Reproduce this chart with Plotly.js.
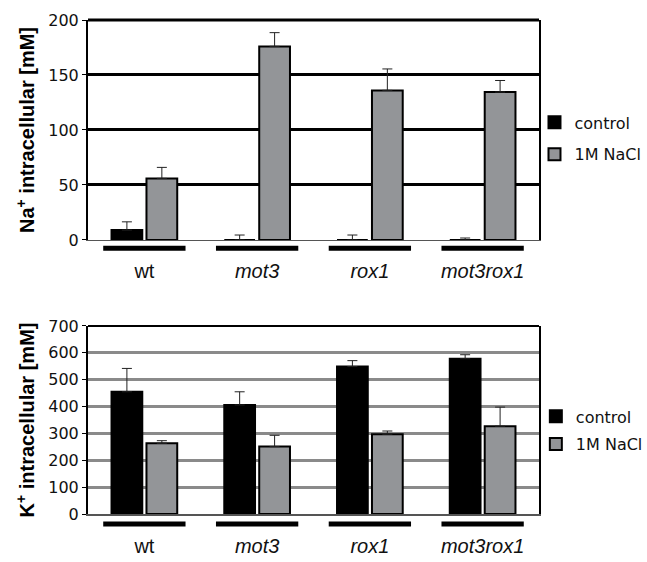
<!DOCTYPE html>
<html>
<head>
<meta charset="utf-8">
<script src="https://cdn.plot.ly/plotly-3.0.1.min.js"></script>
<style>html,body{margin:0;padding:0;background:#fff;}#chart{width:647px;height:562px;}</style>
</head>
<body>
<div id="chart"></div>
<script>
// ---- data ----
const categories = ['wt', 'mot3', 'rox1', 'mot3rox1'];
const tickLabels = ['wt', '<i>mot3</i>', '<i>rox1</i>', '<i>mot3rox1</i>'];
const seriesNames = ['control', '1M NaCl'];

const naControl = [9, 0, 0, 0];
const naControlErr = [7.5, 4.5, 4.5, 1.8];
const naSalt = [56, 176, 136, 134.5];
const naSaltErr = [10, 12.5, 19.5, 10.5];

const kControl = [455, 406, 549, 578];
const kControlErr = [87, 49, 22, 15];
const kSalt = [263, 251, 297, 327];
const kSaltErr = [10, 42, 12, 71];

const naTicks = [0, 50, 100, 150, 200];
const kTicks = [0, 100, 200, 300, 400, 500, 600, 700];

// ---- styles ----
const BLACK = '#000000';
const GREY = '#939598';
const zeros = categories.map(() => 0);

function barTrace(y, err, name, color, xa, ya, legend, group) {
  return {
    type: 'bar', x: categories, y: y, name: name,
    xaxis: xa, yaxis: ya, legend: legend, legendgroup: group,
    marker: {color: color, line: {color: '#000', width: 2}},
    error_y: {type: 'data', array: err, arrayminus: zeros, symmetric: false,
              color: '#222', thickness: 1, width: 5},
    hoverinfo: 'x+y'
  };
}

const data = [
  barTrace(naControl, naControlErr, seriesNames[0], BLACK, 'x', 'y', 'legend', 'a1'),
  barTrace(naSalt, naSaltErr, seriesNames[1], GREY, 'x', 'y', 'legend', 'a2'),
  barTrace(kControl, kControlErr, seriesNames[0], BLACK, 'x2', 'y2', 'legend2', 'b1'),
  barTrace(kSalt, kSaltErr, seriesNames[1], GREY, 'x2', 'y2', 'legend2', 'b2')
];

// category bracket bars under each group
const shapes = [];
categories.forEach((c, i) => {
  shapes.push({type: 'line', xref: 'x', yref: 'y domain', x0: i - 0.365, x1: i + 0.365,
               y0: -0.038, y1: -0.038, line: {color: '#000', width: 5}});
  shapes.push({type: 'line', xref: 'x2', yref: 'y2 domain', x0: i - 0.365, x1: i + 0.365,
               y0: -0.053, y1: -0.053, line: {color: '#000', width: 5}});
});
// top borders
shapes.push({type: 'line', xref: 'x domain', yref: 'y domain', x0: 0, x1: 1, y0: 1, y1: 1,
             line: {color: '#000', width: 3}});
shapes.push({type: 'line', xref: 'x2 domain', yref: 'y2 domain', x0: 0, x1: 1, y0: 1, y1: 1,
             line: {color: '#000', width: 2}});

const xCommon = {
  type: 'category', tickmode: 'array', tickvals: categories, ticktext: tickLabels,
  ticks: '', showgrid: false, showline: true, linecolor: '#555', linewidth: 1.5,
  ticklabelstandoff: 13,
  tickfont: {family: 'Liberation Sans, Arial, sans-serif', size: 20, color: '#111'},
  fixedrange: true
};
const yCommon = {
  showline: true, mirror: true, linecolor: '#000', linewidth: 2,
  ticks: 'outside', ticklen: 4, tickcolor: '#000', tickwidth: 1,
  zeroline: false,
  tickfont: {family: 'DejaVu Sans, sans-serif', size: 16, color: '#111'},
  fixedrange: true
};

const layout = {
  width: 647, height: 562,
  margin: {l: 88, r: 108, t: 20, b: 48, autoexpand: false},
  paper_bgcolor: '#fff', plot_bgcolor: '#fff',
  font: {family: 'DejaVu Sans, sans-serif', color: '#111'},
  barmode: 'group', bargap: 0.38, bargroupgap: 0.12,
  xaxis: Object.assign({}, xCommon, {anchor: 'y', domain: [0, 1]}),
  xaxis2: Object.assign({}, xCommon, {anchor: 'y2', domain: [0, 1]}),
  yaxis: Object.assign({}, yCommon, {
    domain: [0.5547, 1], range: [0, 200], tickvals: naTicks,
    showgrid: true, gridcolor: '#000', gridwidth: 3,
    title: {text: 'Na<sup>+</sup> intracellular [mM]', standoff: 8,
            font: {family: 'Liberation Sans, Arial, sans-serif', size: 20, weight: 'bold', color: '#000'}}
  }),
  yaxis2: Object.assign({}, yCommon, {
    domain: [0, 0.3806], range: [0, 700], tickvals: kTicks, anchor: 'x2',
    showgrid: true, gridcolor: '#8a8a8a', gridwidth: 3,
    title: {text: 'K<sup>+</sup> intracellular [mM]', standoff: 8,
            font: {family: 'Liberation Sans, Arial, sans-serif', size: 20, weight: 'bold', color: '#000'}}
  }),
  legend: {x: 0.99, xanchor: 'left', y: 0.827, yanchor: 'top', tracegroupgap: 8,
           font: {family: 'DejaVu Sans, sans-serif', size: 16, color: '#111'}, bgcolor: 'rgba(0,0,0,0)'},
  legend2: {x: 0.993, xanchor: 'left', y: 0.232, yanchor: 'top', tracegroupgap: 4,
            font: {family: 'DejaVu Sans, sans-serif', size: 16, color: '#111'}, bgcolor: 'rgba(0,0,0,0)'},
  showlegend: true,
  shapes: shapes
};

Plotly.newPlot('chart', data, layout, {displayModeBar: false, staticPlot: true});
</script>
</body>
</html>
